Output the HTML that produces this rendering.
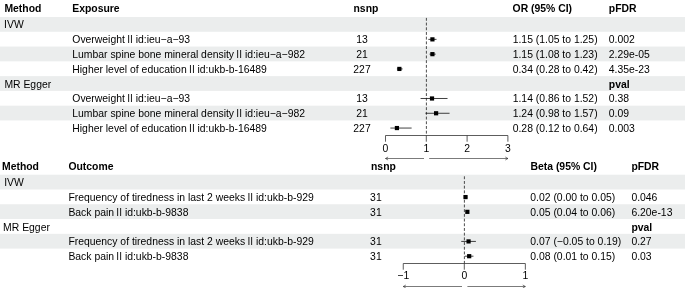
<!DOCTYPE html>
<html><head><meta charset="utf-8"><title>Forest plot</title>
<style>
html,body{margin:0;padding:0;background:#fff;}
body{width:685px;height:288px;overflow:hidden;}
svg{display:block;will-change:transform;}
text{font-family:"Liberation Sans",sans-serif;font-size:10.4px;fill:#000;}
.b{font-weight:bold;}
.m{text-anchor:middle;}
</style></head><body>
<svg width="685" height="288" viewBox="0 0 685 288">
<rect width="685" height="288" fill="#fff"/>
<rect x="0" y="17.00" width="685" height="14.78" fill="#ebeded"/>
<rect x="0" y="46.56" width="685" height="14.78" fill="#ebeded"/>
<rect x="0" y="76.12" width="685" height="14.78" fill="#ebeded"/>
<rect x="0" y="105.68" width="685" height="14.78" fill="#ebeded"/>
<rect x="0" y="174.70" width="685" height="14.78" fill="#ebeded"/>
<rect x="0" y="204.26" width="685" height="14.78" fill="#ebeded"/>
<rect x="0" y="233.82" width="685" height="14.78" fill="#ebeded"/>
<text x="4.4" y="12.20" class="b">Method</text>
<text x="72.3" y="12.20" class="b">Exposure</text>
<text x="353.5" y="12.20" class="b">nsnp</text>
<text x="512.6" y="12.20" class="b">OR (95% CI)</text>
<text x="608.8" y="12.20" class="b">pFDR</text>
<text x="4.1" y="28.40">IVW</text>
<text x="4.4" y="87.52">MR Egger</text>
<text x="72.3" y="43.18">Overweight <tspan dx="-0.35">l</tspan><tspan dx="0.6">l</tspan><tspan dx="0.2"> </tspan>id:ieu−a−93</text>
<text x="362" y="43.18" class="m">13</text>
<text x="512.7" y="43.18">1.15 (1.05 to 1.25)</text>
<text x="608.8" y="43.18">0.002</text>
<text x="72.3" y="102.30">Overweight <tspan dx="-0.35">l</tspan><tspan dx="0.6">l</tspan><tspan dx="0.2"> </tspan>id:ieu−a−93</text>
<text x="362" y="102.30" class="m">13</text>
<text x="512.7" y="102.30">1.14 (0.86 to 1.52)</text>
<text x="608.8" y="102.30">0.38</text>
<text x="72.3" y="57.96">Lumbar spine bone mineral density <tspan dx="-0.35">l</tspan><tspan dx="0.6">l</tspan><tspan dx="0.2"> </tspan>id:ieu−a−982</text>
<text x="362" y="57.96" class="m">21</text>
<text x="512.7" y="57.96">1.15 (1.08 to 1.23)</text>
<text x="608.8" y="57.96">2.29e-05</text>
<text x="72.3" y="117.08">Lumbar spine bone mineral density <tspan dx="-0.35">l</tspan><tspan dx="0.6">l</tspan><tspan dx="0.2"> </tspan>id:ieu−a−982</text>
<text x="362" y="117.08" class="m">21</text>
<text x="512.7" y="117.08">1.24 (0.98 to 1.57)</text>
<text x="608.8" y="117.08">0.09</text>
<text x="72.3" y="72.74">Higher level of education <tspan dx="-0.35">l</tspan><tspan dx="0.6">l</tspan><tspan dx="0.2"> </tspan>id:ukb-b-16489</text>
<text x="362" y="72.74" class="m">227</text>
<text x="512.7" y="72.74">0.34 (0.28 to 0.42)</text>
<text x="608.8" y="72.74">4.35e-23</text>
<text x="72.3" y="131.86">Higher level of education <tspan dx="-0.35">l</tspan><tspan dx="0.6">l</tspan><tspan dx="0.2"> </tspan>id:ukb-b-16489</text>
<text x="362" y="131.86" class="m">227</text>
<text x="512.7" y="131.86">0.28 (0.12 to 0.64)</text>
<text x="608.8" y="131.86">0.003</text>
<text x="608.8" y="87.52" class="b">pval</text>
<line x1="426.40" y1="17.9" x2="426.40" y2="135.5" stroke="#222" stroke-width="0.8" stroke-dasharray="2.9 1.8"/>
<line x1="428.34" y1="39.37" x2="436.50" y2="39.37" stroke="#111" stroke-width="0.8"/>
<rect x="430.32" y="37.27" width="4.2" height="4.2" fill="#000"/>
<line x1="420.59" y1="98.49" x2="447.52" y2="98.49" stroke="#111" stroke-width="0.8"/>
<rect x="429.91" y="96.39" width="4.2" height="4.2" fill="#000"/>
<line x1="429.56" y1="54.15" x2="435.68" y2="54.15" stroke="#111" stroke-width="0.8"/>
<rect x="430.32" y="52.05" width="4.2" height="4.2" fill="#000"/>
<line x1="425.48" y1="113.27" x2="449.56" y2="113.27" stroke="#111" stroke-width="0.8"/>
<rect x="433.99" y="111.17" width="4.2" height="4.2" fill="#000"/>
<line x1="396.92" y1="68.93" x2="402.64" y2="68.93" stroke="#111" stroke-width="0.8"/>
<rect x="397.27" y="66.83" width="4.2" height="4.2" fill="#000"/>
<line x1="390.40" y1="128.05" x2="411.61" y2="128.05" stroke="#111" stroke-width="0.8"/>
<rect x="394.82" y="125.95" width="4.2" height="4.2" fill="#000"/>
<path d="M385.50 141.7 V135.5 H507.90 V141.7 M426.30 135.5 v6.2 M467.10 135.5 v6.2" fill="none" stroke="#333" stroke-width="0.8"/>
<text x="385.50" y="151.70" class="m">0</text>
<text x="426.30" y="151.70" class="m">1</text>
<text x="467.10" y="151.70" class="m">2</text>
<text x="507.90" y="151.70" class="m">3</text>
<path d="M424 158.5 H385.5 M388.1 157.0 L385.5 158.5 L388.1 160.0 M429.2 158.5 H507.9 M505.29999999999995 157.0 L507.9 158.5 L505.29999999999995 160.0" fill="none" stroke="#222" stroke-width="0.6"/>
<text x="2.0" y="169.60" class="b">Method</text>
<text x="68.4" y="169.60" class="b">Outcome</text>
<text x="371" y="169.60" class="b">nsnp</text>
<text x="530.5" y="169.60" class="b">Beta (95% CI)</text>
<text x="631.4" y="169.60" class="b">pFDR</text>
<text x="4.2" y="186.20">IVW</text>
<text x="3.1" y="230.54">MR Egger</text>
<text x="68.4" y="200.98">Frequency of tiredness in last 2 weeks <tspan dx="-0.35">l</tspan><tspan dx="0.6">l</tspan><tspan dx="0.2"> </tspan>id:ukb-b-929</text>
<text x="375.9" y="200.98" class="m">31</text>
<text x="530.3" y="200.98">0.02 (0.00 to 0.05)</text>
<text x="631.4" y="200.98">0.046</text>
<text x="68.4" y="245.32">Frequency of tiredness in last 2 weeks <tspan dx="-0.35">l</tspan><tspan dx="0.6">l</tspan><tspan dx="0.2"> </tspan>id:ukb-b-929</text>
<text x="375.9" y="245.32" class="m">31</text>
<text x="530.3" y="245.32">0.07 (−0.05 to 0.19)</text>
<text x="631.4" y="245.32">0.27</text>
<text x="68.4" y="215.76">Back pain <tspan dx="-0.35">l</tspan><tspan dx="0.6">l</tspan><tspan dx="0.2"> </tspan>id:ukb-b-9838</text>
<text x="375.9" y="215.76" class="m">31</text>
<text x="530.3" y="215.76">0.05 (0.04 to 0.06)</text>
<text x="631.4" y="215.76">6.20e-13</text>
<text x="68.4" y="260.10">Back pain <tspan dx="-0.35">l</tspan><tspan dx="0.6">l</tspan><tspan dx="0.2"> </tspan>id:ukb-b-9838</text>
<text x="375.9" y="260.10" class="m">31</text>
<text x="530.3" y="260.10">0.08 (0.01 to 0.15)</text>
<text x="631.4" y="260.10">0.03</text>
<text x="631.4" y="230.54" class="b">pval</text>
<line x1="464.40" y1="176.29999999999998" x2="464.40" y2="263.5" stroke="#222" stroke-width="0.8" stroke-dasharray="2.9 1.8"/>
<line x1="464.30" y1="197.07" x2="467.35" y2="197.07" stroke="#111" stroke-width="0.8"/>
<rect x="463.42" y="194.97" width="4.2" height="4.2" fill="#000"/>
<line x1="461.25" y1="241.41" x2="475.90" y2="241.41" stroke="#111" stroke-width="0.8"/>
<rect x="466.47" y="239.31" width="4.2" height="4.2" fill="#000"/>
<line x1="466.74" y1="211.85" x2="467.96" y2="211.85" stroke="#111" stroke-width="0.8"/>
<rect x="465.25" y="209.75" width="4.2" height="4.2" fill="#000"/>
<line x1="464.91" y1="256.19" x2="473.46" y2="256.19" stroke="#111" stroke-width="0.8"/>
<rect x="467.08" y="254.09" width="4.2" height="4.2" fill="#000"/>
<path d="M403.25 269.7 V263.5 H525.35 V269.7 M464.30 263.5 v6.2" fill="none" stroke="#333" stroke-width="0.8"/>
<text x="403.25" y="279.45" class="m">−1</text>
<text x="464.30" y="279.45" class="m">0</text>
<text x="525.35" y="279.45" class="m">1</text>
<path d="M462 286.5 H403.25 M405.85 285.0 L403.25 286.5 L405.85 288.0 M467.4 286.5 H525.35 M522.75 285.0 L525.35 286.5 L522.75 288.0" fill="none" stroke="#222" stroke-width="0.6"/>
</svg></body></html>
